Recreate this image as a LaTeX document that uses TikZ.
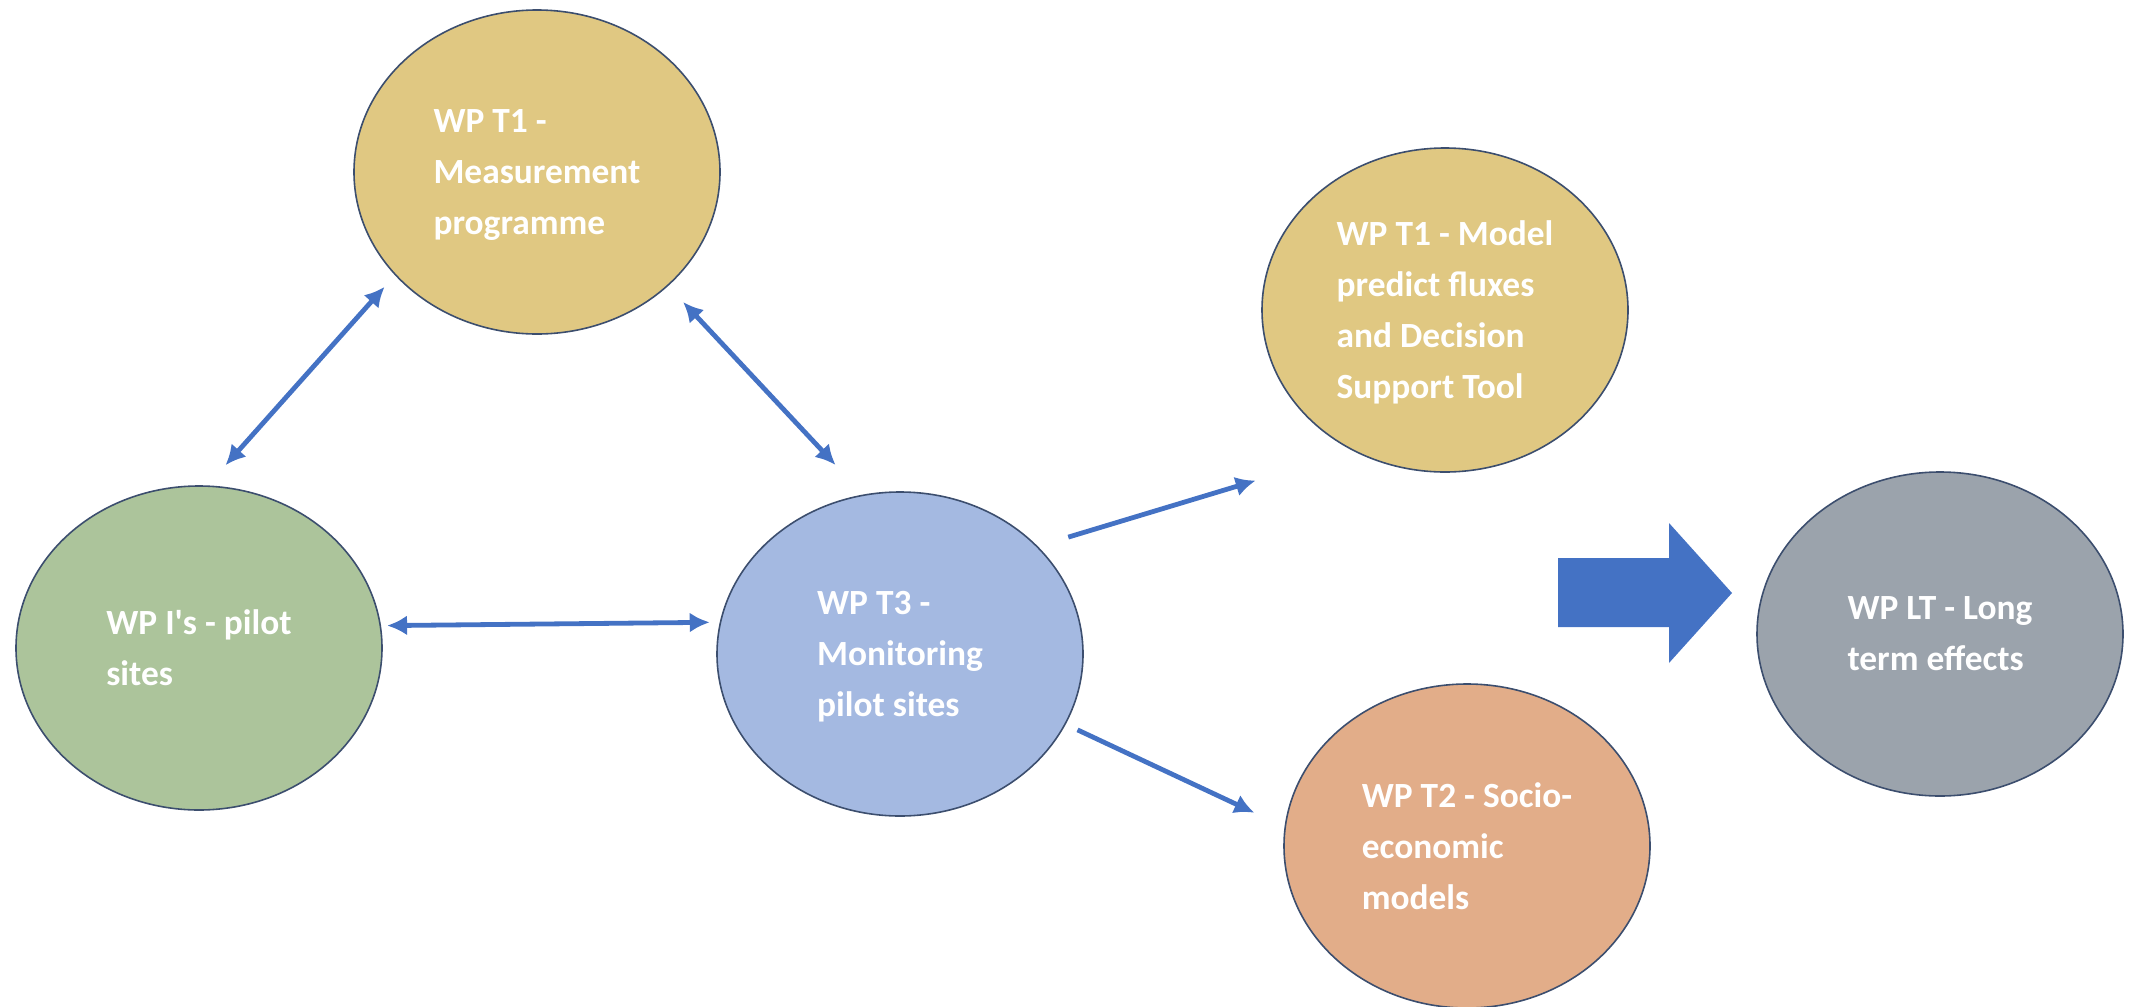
\documentclass[tikz,border=0pt]{standalone}
\usepackage{fontspec}
\setmainfont{Carlito}
\usetikzlibrary{shapes.geometric,arrows.meta}
\definecolor{wpgold}{HTML}{E0C882}
\definecolor{wpgreen}{HTML}{ACC49B}
\definecolor{wpblue}{HTML}{A4B9E1}
\definecolor{wpsalmon}{HTML}{E2AD89}
\definecolor{wpgrey}{HTML}{9BA3AC}
\definecolor{wpline}{HTML}{3C4E6E}
\definecolor{linkblue}{HTML}{4472C4}
\tikzset{
  wp/.style={ellipse,draw=wpline,line width=0.8pt,minimum width=183pt,minimum height=162pt,
    inner sep=0pt,align=left,text depth=0pt,text=white,font=\bfseries\fontsize{17.7}{25.5}\selectfont},
  link/.style={linkblue,line width=2.4pt},
}
\begin{document}
\begin{tikzpicture}[>={Latex[length=10pt,width=10pt]},x=0.5pt,y=-0.5pt,line join=bevel]
 \clip (0,0) rectangle (2133,1007);
%%
 \node (node_0) at (537,172) [wp,fill=wpgold] {WP T1 -\\Measurement\\programme};
 \node (node_1) at (199,648) [wp,fill=wpgreen] {WP I\textquotesingle s - pilot\\sites};
 \node (node_2) at (900,654) [wp,fill=wpblue] {WP T3 -\\Monitoring\\pilot sites};
 \node (node_3) at (1445,310) [wp,fill=wpgold] {WP T1 - Model\\predict fluxes\\and Decision\\Support Tool};
 \node (node_4) at (1467,846) [wp,fill=wpsalmon] {WP T2 - Socio-\\economic\\models};
 \node (node_5) at (1940,634) [wp,fill=wpgrey] {WP LT - Long\\term effects};

  \draw [link,<->,shorten <=7.7pt,shorten >=13.5pt] (node_0.216.4) -- (node_1.87.2);
  \draw [link,<->,shorten <=10.9pt,shorten >=20.2pt] (node_0.319.3) -- (node_2.103.8);
  \draw [link,<->,shorten <=3pt,shorten >=5pt] (node_1.7.2) -- (node_2.170.9);
  \draw [link,->,shorten <=15.9pt,shorten >=51pt] (node_2.38.3) -- (node_3.237);
  \draw [link,->,shorten <=6.5pt,shorten >=16.6pt] (node_2.337.2) -- (node_4.174.5);
%
  \fill [linkblue] (1558,558) -- (1669,558) -- (1669,523) -- (1732,593)
    -- (1669,663) -- (1669,627) -- (1558,627) -- cycle;
\end{tikzpicture}
\end{document}
